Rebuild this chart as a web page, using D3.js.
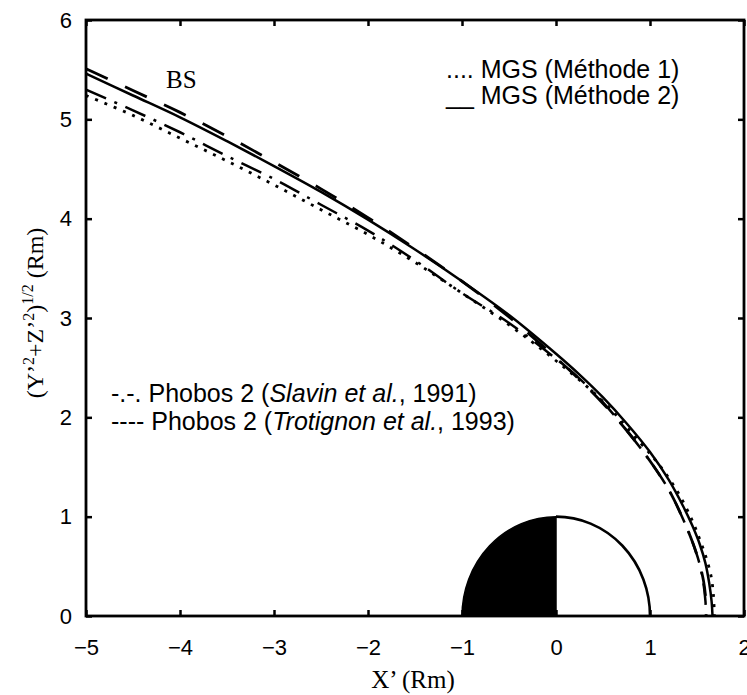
<!DOCTYPE html>
<html>
<head>
<meta charset="utf-8">
<script src="https://cdn.jsdelivr.net/npm/d3@7"></script>
<style>
  body { margin: 0; background: #fff; }
  svg { display: block; }
</style>
</head>
<body>
<div id="chart"></div>
<script>
// axis ticks
const xTicks = [-5, -4, -3, -2, -1, 0, 1, 2];
const yTicks = [0, 1, 2, 3, 4, 5, 6];

// bow shock curves, [X', sqrt(Y'^2+Z'^2)] in Rm
const mgsMethode1 = [
  [-5, 5.24], [-4.5, 5.04], [-4, 4.81], [-3.5, 4.58], [-3, 4.34], [-2.5, 4.09],
  [-2, 3.84], [-1.5, 3.56], [-1, 3.25], [-0.5, 2.93], [0, 2.57], [0.5, 2.16],
  [0.9, 1.74], [1.1, 1.52], [1.3, 1.24], [1.45, 0.96], [1.53, 0.77], [1.6, 0.58],
  [1.65, 0.40], [1.675, 0.21], [1.685, 0]
];
const mgsMethode2 = [
  [-5, 5.46], [-4.5, 5.24], [-4, 5.02], [-3.5, 4.78], [-3, 4.53], [-2.5, 4.27],
  [-2, 3.99], [-1.5, 3.69], [-1, 3.37], [-0.5, 3.03], [0, 2.64], [0.25, 2.43],
  [0.5, 2.20], [0.75, 1.94], [1.0, 1.65], [1.2, 1.37], [1.35, 1.11], [1.45, 0.91],
  [1.53, 0.72], [1.59, 0.53], [1.63, 0.33], [1.655, 0.15], [1.665, 0]
];
const phobosSlavin = [
  [-5, 5.30], [-4.5, 5.09], [-4, 4.87], [-3.5, 4.63], [-3, 4.40], [-2.5, 4.14],
  [-2, 3.88], [-1.5, 3.58], [-1, 3.25], [-0.5, 2.95], [0, 2.59], [0.25, 2.39],
  [0.5, 2.15], [0.75, 1.87], [1.0, 1.56], [1.2, 1.27], [1.35, 0.98], [1.45, 0.75],
  [1.52, 0.55], [1.565, 0.35], [1.59, 0.15], [1.595, 0]
];
const phobosTrotignon = [
  [-5, 5.51], [-4.5, 5.29], [-4, 5.07], [-3.5, 4.83], [-3, 4.57], [-2.5, 4.30],
  [-2, 4.01], [-1.5, 3.70], [-1, 3.37], [-0.5, 3.01], [0, 2.60], [0.25, 2.38],
  [0.5, 2.14], [0.75, 1.87], [1.0, 1.56], [1.2, 1.27], [1.35, 0.98], [1.45, 0.75],
  [1.52, 0.55], [1.57, 0.35], [1.595, 0.15], [1.60, 0]
];
const marsRadius = 1;

const width = 747;
const height = 695;
const plot = { left: 86, right: 744, top: 20, bottom: 616 };

const svg = d3.select('#chart').append('svg')
  .attr('width', width)
  .attr('height', height);

const x = d3.scaleLinear().domain([-5, 2]).range([plot.left, plot.right]);
const y = d3.scaleLinear().domain([0, 6]).range([plot.bottom, plot.top]);

svg.append('clipPath').attr('id', 'clip')
  .append('rect')
  .attr('x', plot.left).attr('y', plot.top)
  .attr('width', plot.right - plot.left).attr('height', plot.bottom - plot.top);

const sans = '"Liberation Sans", Arial, sans-serif';
const serif = '"Liberation Serif", "Times New Roman", serif';

// Mars: night side filled, day side outlined
const rx = x(marsRadius) - x(0);
const ry = y(0) - y(marsRadius);
svg.append('path')
  .attr('d', `M${x(0)},${y(0)} L${x(-marsRadius)},${y(0)} A${rx},${ry} 0 0 1 ${x(0)},${y(marsRadius)} Z`)
  .attr('fill', '#000')
  .attr('stroke', '#000')
  .attr('stroke-width', 1.5);
svg.append('path')
  .attr('d', `M${x(0)},${y(marsRadius)} A${rx},${ry} 0 0 1 ${x(marsRadius)},${y(0)}`)
  .attr('fill', 'none')
  .attr('stroke', '#000')
  .attr('stroke-width', 2.6);

// bow shock curves
const series = [
  { data: phobosTrotignon, dash: '24,19', width: 2.8 },
  { data: phobosSlavin, dash: '22,9,3,9', width: 2.5 },
  { data: mgsMethode1, dash: '3,7', width: 2.8 },
  { data: mgsMethode2, dash: null, width: 2.5 }
];

const line = d3.line()
  .x(d => x(d[0]))
  .y(d => y(d[1]))
  .curve(d3.curveCatmullRom);

const curves = svg.append('g').attr('clip-path', 'url(#clip)');
series.forEach(s => {
  curves.append('path')
    .datum(s.data)
    .attr('fill', 'none')
    .attr('stroke', '#000')
    .attr('stroke-width', s.width)
    .attr('stroke-dasharray', s.dash)
    .attr('d', line);
});

// axes with inward ticks on all four sides
const tickLen = 6;
const styleAxis = g => {
  g.select('.domain').remove();
  g.selectAll('.tick line').attr('stroke', '#000').attr('stroke-width', 2.5);
  g.selectAll('.tick text')
    .attr('fill', '#000')
    .attr('font-family', sans)
    .attr('font-size', 22);
};

svg.append('g')
  .attr('transform', `translate(0,${plot.bottom})`)
  .call(d3.axisBottom(x).tickValues(xTicks).tickSize(-tickLen).tickPadding(23).tickFormat(d3.format('d')))
  .call(styleAxis);
svg.append('g')
  .attr('transform', `translate(0,${plot.top})`)
  .call(d3.axisTop(x).tickValues(xTicks).tickSize(-tickLen).tickFormat(''))
  .call(styleAxis);
svg.append('g')
  .attr('transform', `translate(${plot.left},0)`)
  .call(d3.axisLeft(y).tickValues(yTicks).tickSize(-tickLen).tickPadding(14).tickFormat(d3.format('d')))
  .call(styleAxis);
svg.append('g')
  .attr('transform', `translate(${plot.right},0)`)
  .call(d3.axisRight(y).tickValues(yTicks).tickSize(-tickLen).tickFormat(''))
  .call(styleAxis);

// frame
svg.append('rect')
  .attr('x', plot.left).attr('y', plot.top)
  .attr('width', plot.right - plot.left).attr('height', plot.bottom - plot.top)
  .attr('fill', 'none')
  .attr('stroke', '#000')
  .attr('stroke-width', 2.8);

// axis titles
svg.append('text')
  .attr('x', 413).attr('y', 688)
  .attr('text-anchor', 'middle')
  .attr('font-family', serif)
  .attr('font-size', 25)
  .text('X’ (Rm)');

const yTitle = svg.append('text')
  .attr('transform', 'translate(43,313) rotate(-90)')
  .attr('text-anchor', 'middle')
  .attr('font-family', serif)
  .attr('font-size', 24);
yTitle.append('tspan').text('(Y’');
yTitle.append('tspan').attr('dy', -9).attr('font-size', 16).text('2');
yTitle.append('tspan').attr('dy', 9).text('+Z’');
yTitle.append('tspan').attr('dy', -9).attr('font-size', 16).text('2');
yTitle.append('tspan').attr('dy', 9).text(')');
yTitle.append('tspan').attr('dy', -10).attr('font-size', 16).text('1/2');
yTitle.append('tspan').attr('dy', 10).text(' (Rm)');

// labels and legends
svg.append('text')
  .attr('x', 166).attr('y', 88)
  .attr('font-family', serif)
  .attr('font-size', 25)
  .text('BS');

const legend = svg.append('g')
  .attr('font-family', sans)
  .attr('font-size', 25)
  .attr('fill', '#000');

legend.append('text').attr('x', 446).attr('y', 78).text('.... MGS (Méthode 1)');
legend.append('text').attr('x', 446).attr('y', 104).text('__ MGS (Méthode 2)');

const l3 = legend.append('text').attr('x', 111).attr('y', 402);
l3.append('tspan').text('-.-. Phobos 2 (');
l3.append('tspan').attr('font-style', 'italic').text('Slavin et al.');
l3.append('tspan').text(', 1991)');

const l4 = legend.append('text').attr('x', 111).attr('y', 430);
l4.append('tspan').text('---- Phobos 2 (');
l4.append('tspan').attr('font-style', 'italic').text('Trotignon et al.');
l4.append('tspan').text(', 1993)');
</script>
</body>
</html>
